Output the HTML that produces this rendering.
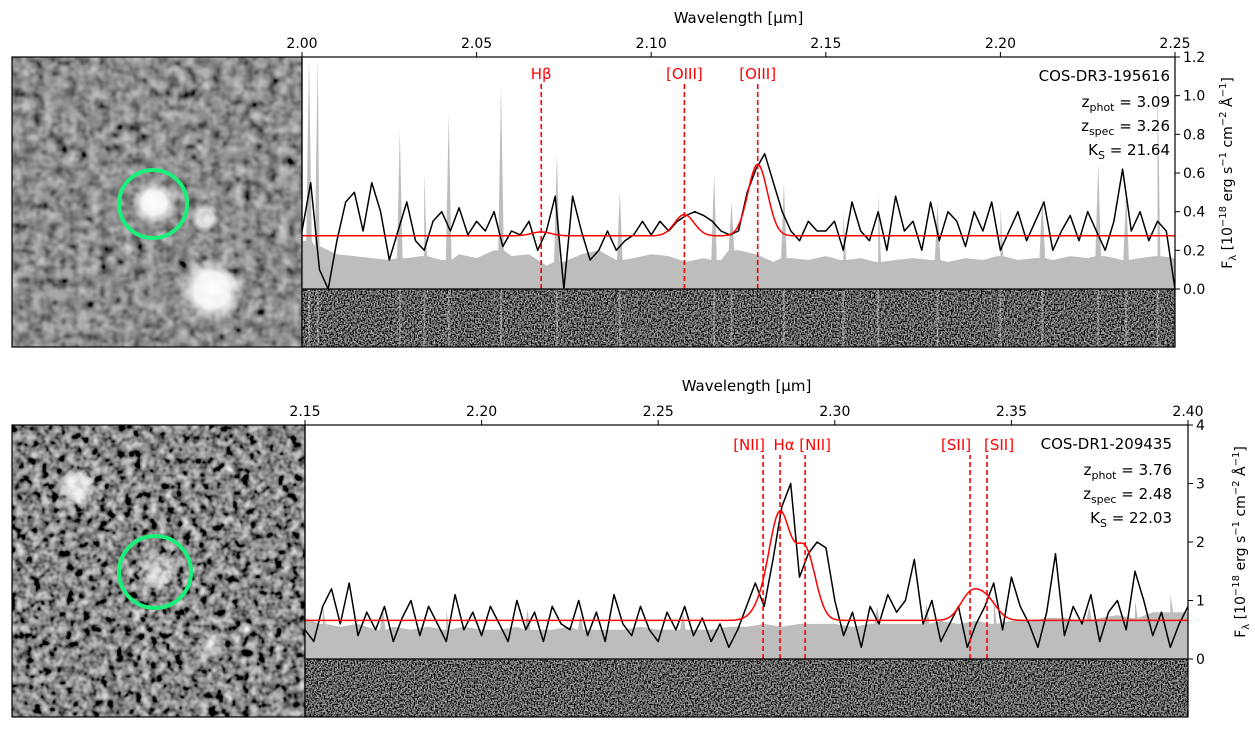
<!DOCTYPE html>
<html><head><meta charset="utf-8"><style>
body{margin:0;background:#fff;width:1255px;height:737px;overflow:hidden;font-family:"Liberation Sans","DejaVu Sans",sans-serif}
svg text{font-family:"DejaVu Sans","Liberation Sans",sans-serif}
</style></head><body>
<svg id="fig" width="1255" height="737" xmlns="http://www.w3.org/2000/svg">
<defs>
<filter id="noiseA" x="0" y="0" width="100%" height="100%"><feTurbulence type="fractalNoise" baseFrequency="0.09" numOctaves="2" seed="3"/><feColorMatrix type="matrix" values="0.33 0.33 0.33 0 0 0.33 0.33 0.33 0 0 0.33 0.33 0.33 0 0 0 0 0 0 1"/><feComponentTransfer><feFuncR type="linear" slope="1.3" intercept="-0.38"/><feFuncG type="linear" slope="1.3" intercept="-0.38"/><feFuncB type="linear" slope="1.3" intercept="-0.38"/></feComponentTransfer></filter>
<filter id="noiseB" x="0" y="0" width="100%" height="100%"><feTurbulence type="fractalNoise" baseFrequency="0.12" numOctaves="2" seed="8"/><feColorMatrix type="matrix" values="0.33 0.33 0.33 0 0 0.33 0.33 0.33 0 0 0.33 0.33 0.33 0 0 0 0 0 0 1"/><feComponentTransfer><feFuncR type="linear" slope="2.2" intercept="-0.85"/><feFuncG type="linear" slope="2.2" intercept="-0.85"/><feFuncB type="linear" slope="2.2" intercept="-0.85"/></feComponentTransfer></filter>
<filter id="noise2d" x="0" y="0" width="100%" height="100%"><feTurbulence type="fractalNoise" baseFrequency="0.7" numOctaves="1" seed="5"/><feColorMatrix type="matrix" values="0.33 0.33 0.33 0 0 0.33 0.33 0.33 0 0 0.33 0.33 0.33 0 0 0 0 0 0 1"/><feComponentTransfer><feFuncR type="linear" slope="2.6" intercept="-1.15"/><feFuncG type="linear" slope="2.6" intercept="-1.15"/><feFuncB type="linear" slope="2.6" intercept="-1.15"/></feComponentTransfer></filter>
<radialGradient id="blob"><stop offset="0" stop-color="#fff"/><stop offset="0.55" stop-color="#fff" stop-opacity="0.9"/><stop offset="1" stop-color="#fff" stop-opacity="0"/></radialGradient>
</defs>
<g>
<rect x="12" y="57" width="290" height="290" filter="url(#noiseA)"/>
<circle cx="154" cy="203" r="22" fill="url(#blob)"/>
<circle cx="205" cy="218" r="15" fill="url(#blob)" opacity="0.8"/>
<circle cx="212" cy="290" r="32" fill="url(#blob)"/>
<circle cx="153" cy="204" r="34" fill="none" stroke="#18f07a" stroke-width="4"/>
<rect x="12" y="57" width="290" height="290" fill="none" stroke="#000" stroke-width="1.2"/>
</g>
<g>
<rect x="12" y="425" width="293" height="292" filter="url(#noiseB)"/>
<circle cx="78" cy="487" r="20" fill="url(#blob)" opacity="0.85"/>
<circle cx="158" cy="572" r="22" fill="url(#blob)" opacity="0.6"/>
<circle cx="210" cy="645" r="16" fill="url(#blob)" opacity="0.5"/>
<circle cx="155" cy="572" r="36" fill="none" stroke="#18f07a" stroke-width="4"/>
<rect x="12" y="425" width="293" height="292" fill="none" stroke="#000" stroke-width="1.2"/>
</g>
<g id="panels"></g>
</svg>
<script>
// ---- top spectrum data ----
const topWave0 = 2.00, topStep = 0.0025;
const topFlux = [0.3,0.55,0.1,0.0,0.25,0.45,0.5,0.3,0.55,0.4,0.15,0.3,0.45,0.25,0.2,0.35,0.4,0.3,0.42,0.28,
0.35,0.3,0.4,0.22,0.3,0.28,0.35,0.2,0.3,0.48,0.0,0.48,0.3,0.15,0.2,0.3,0.2,0.25,0.28,0.35,
0.28,0.35,0.3,0.35,0.38,0.4,0.38,0.35,0.3,0.28,0.3,0.5,0.62,0.7,0.55,0.4,0.3,0.25,0.35,0.3,
0.3,0.35,0.2,0.45,0.3,0.25,0.4,0.2,0.48,0.3,0.35,0.2,0.45,0.25,0.4,0.35,0.22,0.4,0.3,0.45,
0.2,0.3,0.4,0.25,0.35,0.45,0.2,0.3,0.38,0.25,0.4,0.3,0.2,0.35,0.62,0.3,0.4,0.25,0.35,0.3,0.0];
const topErrStep = 0.005;
const topErr = [0.25,0.22,0.18,0.17,0.16,0.15,0.16,0.17,0.15,0.18,0.16,0.2,0.17,0.18,0.12,0.14,0.18,0.2,0.15,0.16,0.18,0.17,0.14,0.16,0.15,0.2,0.18,0.14,0.16,0.15,0.17,0.15,0.16,0.14,0.15,0.16,0.15,0.14,0.16,0.15,0.17,0.15,0.16,0.15,0.17,0.16,0.17,0.15,0.16,0.17,0.16];
const topSkyWave = [2.002,2.0045,2.028,2.035,2.042,2.057,2.073,2.091,2.118,2.123,2.138,2.155,2.165,2.182,2.2,2.212,2.228,2.236,2.245];
const topSkyVal = [1.2,1.2,0.82,0.6,0.9,1.05,0.7,0.5,0.6,0.45,0.55,0.4,0.5,0.45,0.42,0.48,0.65,0.5,1.1];
const topLineWave = [2.0685,2.1095,2.1305];
const topLineAmp = [0.02,0.11,0.37];
const topLineNames = ["Hβ","[OIII]","[OIII]"];
const topCont = 0.275, topSigma = 0.0028;
const topXTicks = [2.00,2.05,2.10,2.15,2.20,2.25];
const topYTicks = [0.0,0.2,0.4,0.6,0.8,1.0,1.2];
// ---- bottom spectrum data ----
const botWave0 = 2.15, botStep = 0.0025;
const botFlux = [0.5,0.3,0.9,1.2,0.6,1.3,0.4,0.8,0.5,0.9,0.3,0.7,1.0,0.4,0.9,0.6,0.3,1.1,0.5,0.8,
0.4,0.9,0.6,0.3,1.0,0.5,0.8,0.3,0.9,0.6,0.5,1.0,0.4,0.8,0.3,1.1,0.6,0.4,0.9,0.5,
0.3,0.8,0.5,0.9,0.4,0.7,0.3,0.6,0.2,0.5,0.9,1.3,0.9,1.7,2.6,3.0,1.4,1.8,2.0,1.9,
1.0,0.4,0.8,0.2,0.9,0.6,1.1,0.8,1.0,1.7,0.6,1.0,0.3,0.6,0.9,0.2,0.6,0.9,1.3,0.5,
1.4,0.9,0.6,0.2,0.8,1.8,0.4,0.9,0.6,1.1,0.3,0.8,1.0,0.5,1.5,1.0,0.4,0.8,0.2,0.6,0.9];
const botErrStep = 0.005;
const botErr = [0.7,0.6,0.55,0.6,0.5,0.55,0.5,0.55,0.5,0.55,0.5,0.5,0.55,0.5,0.5,0.55,0.5,0.5,0.5,0.55,0.5,0.5,0.5,0.5,0.55,0.55,0.6,0.55,0.6,0.6,0.6,0.55,0.6,0.6,0.6,0.6,0.65,0.6,0.65,0.6,0.65,0.65,0.7,0.7,0.65,0.7,0.75,0.7,0.8,0.8,0.8];
const botSkyWave = [2.155,2.172,2.19,2.213,2.228,2.257,2.312,2.326,2.345,2.372,2.385,2.395];
const botSkyVal = [0.95,0.9,0.85,0.85,0.75,0.8,0.9,0.95,1.1,0.9,1.0,1.1];
const botLineWave = [2.2797,2.2845,2.2916,2.3383,2.3431];
const botLineAmp = [0.25,1.75,1.2,0.42,0.33];
const botLineNames = ["[NII]","Hα","[NII]","[SII]","[SII]"];
const botCont = 0.66, botSigma = 0.0029;
const botXTicks = [2.15,2.20,2.25,2.30,2.35,2.40];
const botYTicks = [0,1,2,3,4];

const NS = "http://www.w3.org/2000/svg";
const root = document.getElementById('panels');
function mk(tag, attrs, parent){const e=document.createElementNS(NS,tag);for(const k in attrs)e.setAttribute(k,attrs[k]);(parent||root).appendChild(e);return e;}

function panel(c){
  const g = mk('g',{});
  
  
  const X = w => c.x0 + (w - c.w0)/(c.w1 - c.w0)*(c.x1 - c.x0);
  const Y = v => c.yb - (v - c.v0)/(c.v1 - c.v0)*(c.yb - c.yt);
  const clipId = c.name+'-clip';
  const cp = mk('clipPath',{id:clipId},g); mk('rect',{x:c.x0,y:c.yt,width:c.x1-c.x0,height:c.yb-c.yt},cp);
  const pg = mk('g',{'clip-path':'url(#'+clipId+')'},g);
  let d = 'M'+X(c.w0)+','+Y(0);
  const pts = [];
  c.err.forEach((v,i)=>pts.push([c.w0+i*c.errStep, v]));
  c.skyW.forEach((w,i)=>{pts.push([w-0.0008, c.err[Math.round((w-c.w0)/c.errStep)]||0.2]);pts.push([w, c.skyV[i]]);pts.push([w+0.0008, c.err[Math.round((w-c.w0)/c.errStep)]||0.2]);});
  pts.sort((a,b)=>a[0]-b[0]);
  pts.forEach(p=>d+=' L'+X(p[0]).toFixed(1)+','+Y(p[1]).toFixed(1));
  d += ' L'+X(c.w1)+','+Y(0)+' Z';
  const ea = mk('path',{d:d,fill:'#bdbdbd'},pg);
  
  
  let fd=''; c.flux.forEach((v,i)=>{fd+=(i?' L':'M')+X(c.w0+i*c.step).toFixed(1)+','+Y(v).toFixed(1);});
  const fl = mk('path',{d:fd,fill:'none',stroke:'#000','stroke-width':1.5,'stroke-linejoin':'round'},pg);
  
  
  let md=''; for(let k=0;k<=600;k++){const w=c.w0+(c.w1-c.w0)*k/600;let v=c.cont;c.lw.forEach((lw,j)=>{v+=c.la[j]*Math.exp(-0.5*Math.pow((w-lw)/c.sig,2));});md+=(k?' L':'M')+X(w).toFixed(1)+','+Y(v).toFixed(1);}
  const ml = mk('path',{d:md,fill:'none',stroke:'#ff0000','stroke-width':1.5},pg);
  
  
  c.lw.forEach((lw,j)=>{
    const ln = mk('line',{x1:X(lw),x2:X(lw),y1:c.yb,y2:c.markTop,stroke:'#ff0000','stroke-width':1.6,'stroke-dasharray':'5,3'},g);
    
    
    const t = mk('text',{x:X(lw)+(c.lblOff?c.lblOff[j]:0),y:c.markTop-5,'text-anchor':'middle','font-size':15,fill:'#ff0000'},g);
    t.textContent = c.ln[j];
    
    
  });
  const r2 = mk('rect',{x:c.x0,y:c.yb,width:c.x1-c.x0,height:c.y2-c.yb,filter:'url(#noise2d)'},g);
  
  
  if(c.stripes) c.skyW.forEach(w=>mk('rect',{x:X(w)-1,y:c.yb,width:2,height:c.y2-c.yb,fill:'#fff',opacity:0.3},g));
  mk('rect',{x:c.x0,y:c.yt,width:c.x1-c.x0,height:c.y2-c.yt,fill:'none',stroke:'#000','stroke-width':1.2},g);
  mk('line',{x1:c.x0,x2:c.x1,y1:c.yb,y2:c.yb,stroke:'#000','stroke-width':1.2},g);
  c.xt.forEach(v=>{mk('line',{x1:X(v),x2:X(v),y1:c.yt,y2:c.yt-5,stroke:'#000'},g);
    const t=mk('text',{x:X(v),y:c.yt-9,'text-anchor':'middle','font-size':14},g);t.textContent=v.toFixed(2);
    });
  const xl=mk('text',{x:(c.x0+c.x1)/2,y:c.yt-34,'text-anchor':'middle','font-size':15},g);
  xl.textContent='Wavelength [μm]';
  
  c.yt2.forEach(v=>{mk('line',{x1:c.x1,x2:c.x1+5,y1:Y(v),y2:Y(v),stroke:'#000'},g);
    const t=mk('text',{x:c.x1+8,y:Y(v)+5,'font-size':14},g);t.textContent=c.yfmt(v);
    });
  const yl=mk('text',{transform:'translate('+(c.x1+57)+','+((c.yt+c.yb)/2)+') rotate(-90)','text-anchor':'middle','font-size':14},g);
  yl.innerHTML='F<tspan font-size="10" dy="4">λ</tspan><tspan dy="-4"> [10</tspan><tspan font-size="10" dy="-6">−18</tspan><tspan dy="6"> erg s</tspan><tspan font-size="10" dy="-6">−1</tspan><tspan dy="6"> cm</tspan><tspan font-size="10" dy="-6">−2</tspan><tspan dy="6"> Å</tspan><tspan font-size="10" dy="-6">−1</tspan><tspan dy="6">]</tspan>';
  
  const ix=c.infoX, iy=c.infoY;
  const a=mk('text',{x:ix,y:iy,'text-anchor':'end','font-size':15},g);a.textContent=c.id;
  
  const b=mk('text',{x:ix,y:iy+26,'text-anchor':'end','font-size':15},g);b.innerHTML='z<tspan font-size="11" dy="4">phot</tspan><tspan dy="-4"> = '+c.zp+'</tspan>';
  
  const e=mk('text',{x:ix,y:iy+50,'text-anchor':'end','font-size':15},g);e.innerHTML='z<tspan font-size="11" dy="4">spec</tspan><tspan dy="-4"> = '+c.zs+'</tspan>';
  
  const f=mk('text',{x:ix,y:iy+74,'text-anchor':'end','font-size':15},g);f.innerHTML='K<tspan font-size="11" dy="4">S</tspan><tspan dy="-4"> = '+c.ks+'</tspan>';
  
}
panel({name:'spectrum-top',x0:302,x1:1175,yt:57,yb:289,y2:347,w0:2.00,w1:2.25,v0:0,v1:1.2,
  flux:topFlux,step:topStep,err:topErr,errStep:topErrStep,skyW:topSkyWave,skyV:topSkyVal,
  lw:topLineWave,la:topLineAmp,ln:topLineNames,cont:topCont,sig:topSigma,markTop:84,
  xt:topXTicks,yt2:topYTicks,yfmt:v=>v.toFixed(1),stripes:true,
  infoX:1170,infoY:81,id:'COS-DR3-195616',zp:'3.09',zs:'3.26',ks:'21.64'});
panel({name:'spectrum-bottom',x0:305,x1:1188,yt:425,yb:659,y2:717,w0:2.15,w1:2.40,v0:0,v1:4,
  flux:botFlux,step:botStep,err:botErr,errStep:botErrStep,skyW:botSkyWave,skyV:botSkyVal,
  lw:botLineWave,la:botLineAmp,ln:botLineNames,cont:botCont,sig:botSigma,markTop:455,lblOff:[-14,4,10,-14,12],
  xt:botXTicks,yt2:botYTicks,yfmt:v=>String(v),stripes:false,
  infoX:1172,infoY:449,id:'COS-DR1-209435',zp:'3.76',zs:'2.48',ks:'22.03'});
</script>
</body></html>
